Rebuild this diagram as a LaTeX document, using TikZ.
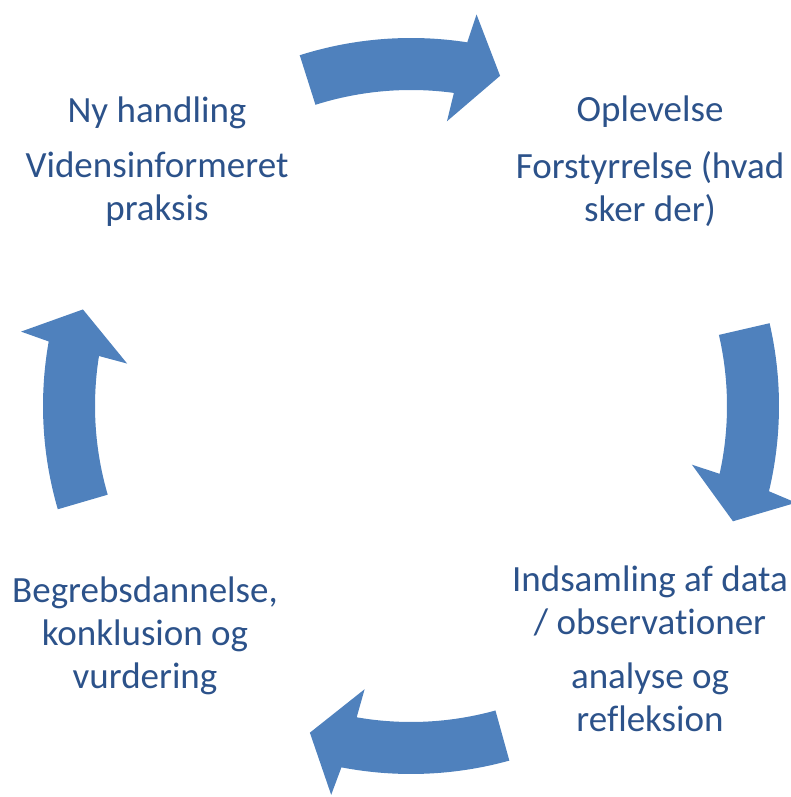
\documentclass[tikz,border=0pt]{standalone}
\usepackage{fontspec}
\setmainfont[Ligatures=NoCommon]{Carlito}
\usetikzlibrary{calc}

\definecolor{cyclefill}{RGB}{79,129,189}
\definecolor{cycletext}{RGB}{44,82,138}

\tikzset{
  steptext/.style={align=center, inner sep=0pt, anchor=base,
                   text=cycletext, font=\fontsize{37}{43}\selectfont}
}

% one curved block arrow of the cycle, tail at angle #1
\newcommand\cyclearrow[1]{%
  \fill[cyclefill] ($(c)+(#1:368)$)
    arc[start angle=#1, end angle=#1-26.4, radius=368]
    -- ($(c)+(#1-27.1:397)$) -- ($(c)+(#1-32.7:342)$)
    -- ($(c)+(#1-24.8:287)$) -- ($(c)+(#1-25.4:316)$)
    arc[start angle=#1-25.4, end angle=#1, radius=316] -- cycle;}

\begin{document}
\begin{tikzpicture}[x=1pt,y=1pt]
\useasboundingbox (0,0) rectangle (790,797);
\coordinate (c) at (411,391);

\foreach \a in {107.6,13,-74.5,196.3}
  \cyclearrow{\a};

% base = baseline of the last line
\node[steptext] (handling) at (157,674) {Ny handling};
\node[steptext] (praksis) at (157,576) {Vidensinformeret\\praksis};
\node[steptext] (oplevelse) at (650,675) {Oplevelse};
\node[steptext] (forstyrrelse) at (650,575) {Forstyrrelse (hvad\\sker der)};
\node[steptext] (indsamling) at (650,162) {Indsamling af data\\/ observationer};
\node[steptext] (analyse) at (650,65) {analyse og\\refleksion};
\node[steptext] (begreb) at (145,108) {Begrebsdannelse,\\konklusion og\\vurdering};
\end{tikzpicture}
\end{document}
